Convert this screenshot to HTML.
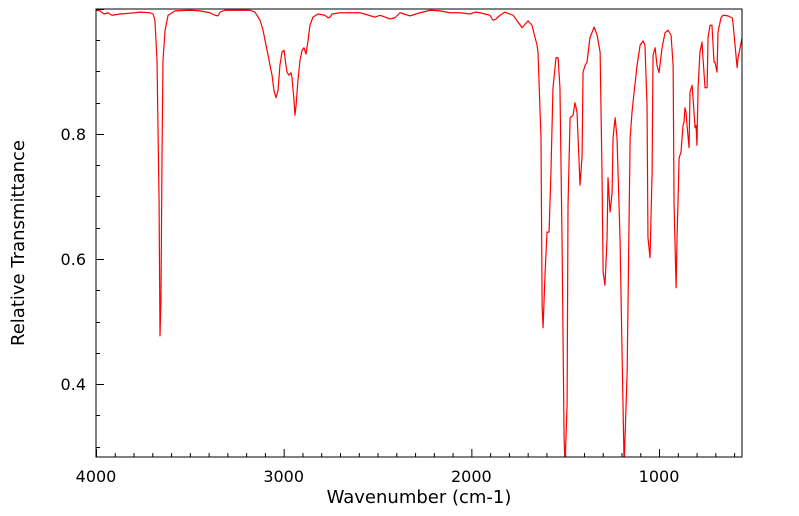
<!DOCTYPE html>
<html><head><meta charset="utf-8"><style>
html,body{margin:0;padding:0;background:#fff;}
svg{display:block;font-family:"DejaVu Sans","Liberation Sans",sans-serif;}
</style></head><body>
<svg id="chart" width="799" height="516">
<defs><clipPath id="clip"><rect x="96" y="9" width="646" height="448"/></clipPath></defs>
<g id="ticks"></g>
<path id="spectrum" fill="none" stroke="#ff0000" stroke-width="1.2" stroke-linejoin="round" clip-path="url(#clip)"/>
<rect x="96" y="9" width="646" height="448" fill="none" stroke="#000" stroke-width="1"/>
<text x="419" y="503" font-size="18" text-anchor="middle">Wavenumber (cm-1)</text>
<text transform="translate(24,243) rotate(-90)" font-size="18" text-anchor="middle">Relative Transmittance</text>
</svg>
<script>
const wavenumbers=[4000,3979,3957,3936,3915,3872,3792,3766,3712,3696,3686,3675,3664,3659,3654,3648,3643,3632,3616,3579,3499,3446,3393,3366,3350,3339,3313,3179,3153,3126,3110,3094,3083,3073,3062,3052,3041,3030,3020,3009,2998,2988,2982,2972,2961,2956,2945,2940,2934,2924,2913,2902,2892,2881,2870,2860,2844,2817,2780,2764,2753,2742,2700,2593,2513,2487,2433,2407,2380,2327,2274,2220,2167,2114,2060,2007,1980,1954,1901,1885,1869,1847,1821,1778,1751,1730,1698,1677,1650,1645,1629,1623,1618,1607,1597,1586,1576,1565,1549,1538,1528,1517,1506,1501,1490,1485,1474,1458,1448,1437,1421,1410,1405,1394,1384,1368,1346,1330,1314,1304,1298,1288,1277,1272,1261,1250,1245,1234,1224,1208,1192,1186,1170,1154,1144,1139,1117,1101,1085,1075,1064,1059,1048,1037,1032,1021,1011,1000,984,968,952,936,925,920,909,904,893,883,872,867,862,856,851,840,835,824,819,808,803,798,792,782,771,766,755,744,739,728,718,707,702,691,686,670,659,633,611,606,595,584,579,568,552];
const transmittance=[0.998,0.997,0.992,0.994,0.990,0.992,0.994,0.995,0.994,0.992,0.982,0.918,0.694,0.477,0.534,0.774,0.918,0.966,0.990,0.997,0.998,0.997,0.994,0.990,0.989,0.995,0.998,0.998,0.995,0.982,0.966,0.942,0.926,0.910,0.894,0.870,0.858,0.870,0.910,0.931,0.934,0.910,0.899,0.894,0.898,0.891,0.854,0.830,0.846,0.886,0.918,0.934,0.938,0.928,0.950,0.974,0.987,0.992,0.990,0.986,0.987,0.992,0.994,0.994,0.987,0.990,0.984,0.986,0.994,0.989,0.994,0.998,0.997,0.994,0.994,0.992,0.995,0.994,0.990,0.982,0.984,0.990,0.995,0.990,0.979,0.970,0.981,0.974,0.942,0.931,0.794,0.526,0.490,0.579,0.643,0.643,0.739,0.874,0.922,0.922,0.874,0.634,0.314,0.27,0.366,0.686,0.826,0.830,0.850,0.835,0.718,0.766,0.899,0.910,0.915,0.954,0.971,0.958,0.931,0.739,0.579,0.558,0.634,0.730,0.675,0.707,0.794,0.826,0.794,0.634,0.366,0.27,0.419,0.794,0.835,0.850,0.910,0.942,0.949,0.942,0.846,0.634,0.602,0.739,0.926,0.938,0.910,0.898,0.938,0.962,0.966,0.958,0.910,0.686,0.554,0.634,0.762,0.771,0.814,0.819,0.842,0.835,0.814,0.778,0.867,0.878,0.858,0.810,0.814,0.782,0.874,0.931,0.947,0.922,0.874,0.874,0.954,0.974,0.974,0.915,0.915,0.899,0.963,0.986,0.990,0.989,0.986,0.978,0.942,0.906,0.922,0.938,0.963];
const xTickLabels=["4000","3000","2000","1000"];
const yTickLabels=["0.4","0.6","0.8"];

const X0=96,X1=742,Y0=9,Y1=457;
const WN_MAX=4000,WN_MIN=558,T_MIN=0.2832,T_MAX=1.0;
function xs(w){return X0+(WN_MAX-w)/(WN_MAX-WN_MIN)*(X1-X0);}
function ys(t){return Y1-(t-T_MIN)/(T_MAX-T_MIN)*(Y1-Y0);}

const NS="http://www.w3.org/2000/svg";
let d="";
for(let i=0;i<wavenumbers.length;i++){d+=(i?"L":"M")+xs(wavenumbers[i]).toFixed(2)+","+ys(transmittance[i]).toFixed(2);}
document.getElementById("spectrum").setAttribute("d",d);

const g=document.getElementById("ticks");
function line(x1,y1,x2,y2,name){
  const l=document.createElementNS(NS,"line");
  l.setAttribute("x1",x1);l.setAttribute("y1",y1);l.setAttribute("x2",x2);l.setAttribute("y2",y2);
  l.setAttribute("stroke","#000");l.setAttribute("stroke-width","1");
  
  
  g.appendChild(l);
}
function txt(x,y,s,anchor,name){
  const t=document.createElementNS(NS,"text");
  t.setAttribute("x",x);t.setAttribute("y",y);t.setAttribute("font-size","16");t.setAttribute("text-anchor",anchor);
  t.textContent=s;
  
  
  g.appendChild(t);
}
for(let w=4000;w>=WN_MIN;w-=100){
  const major=w%1000===0;const x=xs(w)+0.5;
  line(x,Y1,x,Y1-(major?8:4),major?"x-major-tick":"x-minor-tick");
}
xTickLabels.forEach(s=>{txt(xs(+s),482,s,"middle","x-tick-label");});
for(let k=6;k<=20;k++){
  const t=k*0.05;if(t<T_MIN||t>T_MAX)continue;
  const major=k%4===0;const y=Math.round(ys(t))+0.5;
  line(X0,y,X0+(major?8:4),y,major?"y-major-tick":"y-minor-tick");
}
yTickLabels.forEach(s=>{txt(86,ys(+s)+6,s,"end","y-tick-label");});
</script>
</body></html>
